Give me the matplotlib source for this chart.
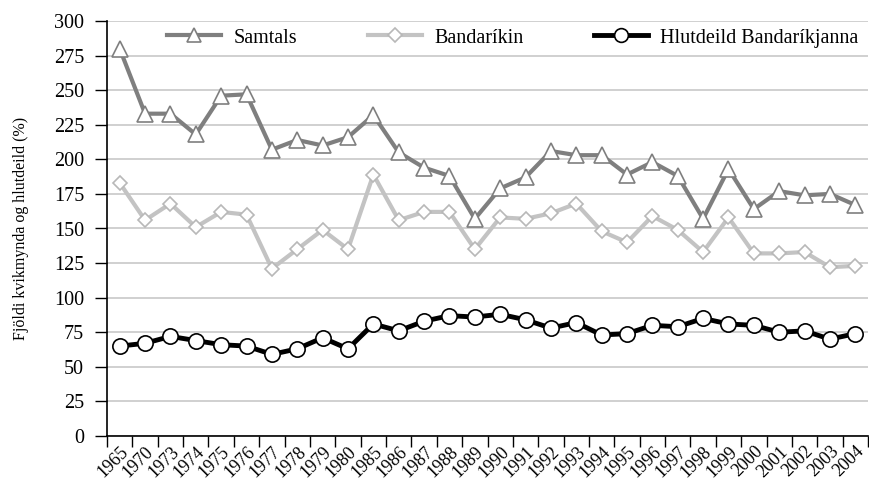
import matplotlib
matplotlib.use("Agg")
import matplotlib.pyplot as plt
import matplotlib.transforms as mtransforms
import numpy as np

# Fjöldi kvikmynda sýndra í kvikmyndahúsum og hlutdeild bandarískra mynda
years = ['1965', '1970', '1973', '1974', '1975', '1976', '1977', '1978', '1979', '1980',
         '1985', '1986', '1987', '1988', '1989', '1990', '1991', '1992', '1993', '1994',
         '1995', '1996', '1997', '1998', '1999', '2000', '2001', '2002', '2003', '2004']
samtals = [280, 233, 233, 218, 246, 247, 207, 214, 210, 216,
           232, 205, 194, 188, 157, 179, 187, 206, 203, 203,
           189, 198, 188, 157, 193, 164, 177, 174, 175, 167]
bandarikin = [183, 156, 168, 151, 162, 160, 121, 135, 149, 135,
              189, 156, 162, 162, 135, 158, 157, 161, 168, 148,
              140, 159, 149, 133, 158, 132, 132, 133, 122, 123]
hlutdeild = [65, 67, 72, 69, 66, 65, 59, 63, 71, 63,
             81, 76, 83, 87, 86, 88, 84, 78, 82, 73,
             74, 80, 79, 85, 81, 80, 75, 76, 70, 74]

plt.rcParams['font.family'] = ['Liberation Serif', 'DejaVu Serif']

fig = plt.figure(figsize=(8.69, 4.86), dpi=100)
ax = fig.add_axes([107 / 869, 50 / 486, 761 / 869, 415 / 486])

x = np.arange(len(years))

ax.plot(x, samtals, color='#7f7f7f', lw=3, marker='^', ms=11,
        mfc='white', mec='#7f7f7f', mew=1.2, label='Samtals', zorder=3)
ax.plot(x, bandarikin, color='#c3c3c3', lw=3, marker='D', ms=7.5,
        mfc='white', mec='#b8b8b8', mew=1.2, label='Bandaríkin', zorder=3)
ax.plot(x, hlutdeild, color='black', lw=3.5, marker='o', ms=11,
        mfc='white', mec='black', mew=1.2, label='Hlutdeild Bandaríkjanna', zorder=4)

ax.set_xlim(-0.5, len(years) - 0.5)
ax.set_ylim(0, 300)
ax.set_yticks(np.arange(0, 301, 25))
ax.yaxis.grid(True, color='#c8c8c8', lw=1.2)
ax.set_axisbelow(True)

# ticks on the category boundaries, labels centred on each point
ax.set_xticks(np.arange(-0.5, len(years) + 0.5, 1), minor=False)
ax.set_xticklabels([])
ax.set_xticks(x, minor=True)
ax.set_xticklabels(years, minor=True, rotation=45, ha='right', va='top',
                   rotation_mode='anchor', fontsize=13)
shift = mtransforms.ScaledTranslation(5 / 100, 0, fig.dpi_scale_trans)
for lbl in ax.get_xticklabels(minor=True):
    lbl.set_transform(lbl.get_transform() + shift)
ax.tick_params(axis='x', which='minor', length=0, pad=5)
ax.tick_params(axis='x', which='major', length=8, width=1, direction='out')
ax.tick_params(axis='y', length=8.5, width=1, direction='out', labelsize=14.5, pad=8)

for side in ['top', 'right']:
    ax.spines[side].set_visible(False)
for side in ['left', 'bottom']:
    ax.spines[side].set_linewidth(1.2)

ax.set_ylabel('Fjöldi kvikmynda og hlutdeild (%)', fontsize=11.5)
ax.yaxis.set_label_coords(-0.103, 0.5)

fig.legend(loc='center left', bbox_to_anchor=(167 / 869, 1 - 38 / 486), ncol=3,
           frameon=False, fontsize=14.5, handlelength=2.7, columnspacing=3.5,
           handletextpad=0.6, borderpad=0, borderaxespad=0, markerscale=0.9)

fig.savefig('out.png', dpi=100)
